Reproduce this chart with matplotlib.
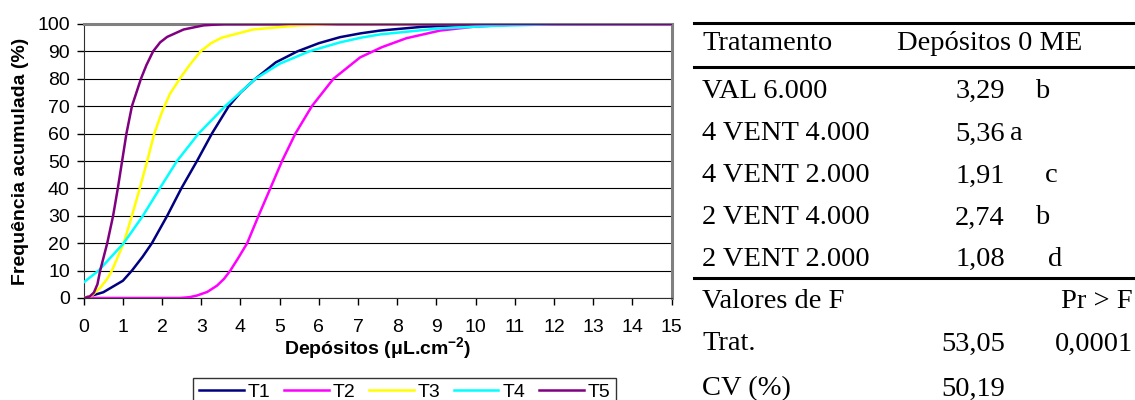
import matplotlib.pyplot as plt

plt.rcParams['font.family'] = ['Liberation Sans', 'DejaVu Sans']
plt.rcParams['mathtext.fontset'] = 'custom'
plt.rcParams['mathtext.rm'] = 'Liberation Sans:bold'
plt.rcParams['mathtext.bf'] = 'Liberation Sans:bold'

# curvas de frequencia acumulada
x_t1 = [0, 0.5, 1.0, 1.23, 1.5, 1.74, 2.13, 2.49, 2.89, 3.27, 3.70, 4.0, 4.38, 4.9, 5.45,
        6.0, 6.54, 7.07, 7.56, 8.66, 10, 11, 15]
y_t1 = [0, 2.1, 6.3, 10, 15, 20, 30, 40, 50, 60, 70, 75, 80, 86, 90,
        93, 95.2, 96.6, 97.6, 99, 99.8, 100, 100]

x_t2 = [0, 2.45, 2.7, 2.89, 3.15, 3.4, 3.58, 3.74, 3.96, 4.17, 4.46, 4.76, 5.06, 5.40, 5.82, 6.37,
        7.05, 7.6, 8.23, 9.09, 9.94, 11, 12, 15]
y_t2 = [0, 0, 0.3, 0.9, 2.2, 4.5, 7, 10, 15, 20, 30, 40, 50, 60, 70, 80,
        87.8, 91.5, 94.8, 97.6, 99, 99.8, 100, 100]

x_t3 = [0, 0.2, 0.43, 0.6, 0.72, 1.02, 1.23, 1.43, 1.62, 1.80, 2.0, 2.2, 2.45, 2.7, 2.98, 3.25,
        3.52, 4.32, 5.5, 6.5, 15]
y_t3 = [0, 0.8, 3.9, 7, 10, 20, 30, 40, 50, 60, 68, 74.5, 80, 85, 90, 93,
        95, 98, 99.5, 100, 100]

x_t4 = [0, 0.38, 0.7, 1.02, 1.51, 1.94, 2.38, 2.93, 3.61, 4.38, 5.0, 5.75, 6.54, 7.07, 7.56,
        9.09, 10.4, 12, 15]
y_t4 = [5.7, 10, 15, 20, 30, 40, 50, 60, 70, 80, 85.5, 90, 93.3, 95, 96.2,
        98.4, 99.3, 99.9, 100]

x_t5 = [0, 0.15, 0.26, 0.35, 0.42, 0.6, 0.75, 0.87, 0.98, 1.09, 1.23, 1.46, 1.6, 1.77, 1.95,
        2.13, 2.55, 3.06, 3.6, 15]
y_t5 = [0, 0.5, 2, 5, 10, 20, 30, 40, 50, 60, 70, 80, 85, 90, 93.3,
        95.3, 98, 99.5, 100, 100]

series = [("T1", x_t1, y_t1, "#000080"),
          ("T2", x_t2, y_t2, "#FF00FF"),
          ("T3", x_t3, y_t3, "#FFFF00"),
          ("T4", x_t4, y_t4, "#00FFFF"),
          ("T5", x_t5, y_t5, "#800080")]

# tabela
tratamentos = ["VAL 6.000", "4 VENT 4.000", "4 VENT 2.000", "2 VENT 4.000", "2 VENT 2.000"]
medias = ["3,29", "5,36", "1,91", "2,74", "1,08"]
letras = ["b", "a", "c", "b", "d"]
f_trat = "53,05"
pr_trat = "0,0001"
cv = "50,19"

W, H = 1135, 400
fig = plt.figure(figsize=(W / 100, H / 100), dpi=100)

ax = fig.add_axes([83.7 / W, 1 - 298 / H, 588 / W, 274 / H])
for nome, xs, ys, cor in series:
    ax.plot(xs, ys, color=cor, lw=1.8, label=nome, zorder=3, solid_joinstyle="round")

ax.set_xlim(0, 15)
ax.set_ylim(0, 100)
ax.set_xticks(range(0, 16))
ax.set_yticks(range(0, 101, 10))
ax.yaxis.grid(True, color="black", lw=0.8)
ax.tick_params(labelsize=14, length=5, width=1, direction="out")
ax.tick_params(axis="x", pad=10)
ax.tick_params(axis="y", pad=5)
ax.spines["left"].set_color("#303030")
ax.spines["bottom"].set_color("#303030")
ax.spines["right"].set_color("#808080")
ax.spines["top"].set_color("#808080")
ax.spines["right"].set_linewidth(2.2)
ax.spines["top"].set_linewidth(2.2)

ax.set_xlabel("Depósitos (μL.cm$^{-2}$)", fontsize=14, fontweight="bold", labelpad=0)
ax.set_ylabel("Frequência acumulada (%)", fontsize=14, fontweight="bold", labelpad=6)

leg = fig.legend(loc="upper left", bbox_to_anchor=(193 / W, 1 - 377.5 / H), ncol=5,
                 fontsize=14, frameon=True, fancybox=False, handlelength=2.3,
                 handletextpad=0.2, columnspacing=0.7, borderpad=0.3, borderaxespad=0)
leg.get_frame().set_edgecolor("black")
leg.get_frame().set_linewidth(1)

# tabela a direita, em coordenadas de pixel
tb = fig.add_axes([0, 0, 1, 1])
tb.set_xlim(0, W)
tb.set_ylim(H, 0)
tb.axis("off")

fs = 20.5
serif = ["Liberation Serif", "DejaVu Serif"]
tb.plot([694, W], [23, 23], color="black", lw=2.2)
tb.plot([694, W], [66.5, 66.5], color="black", lw=2.2)
tb.plot([694, W], [278, 278], color="black", lw=2.2)

tb.text(702, 44, "Tratamento", fontsize=fs, family=serif, va="center")
tb.text(897, 44, "Depósitos 0 ME", fontsize=fs, family=serif, va="center")

linhas_y = [91, 134, 176, 218, 259]
letras_x = {"a": 1010, "b": 1035, "c": 1045, "d": 1048}
for ty, nome, m, l in zip(linhas_y, tratamentos, medias, letras):
    tb.text(702, ty, nome, fontsize=fs, family=serif, va="center")
    tb.text(1005, ty, m, fontsize=fs, family=serif, va="center", ha="right")
    tb.text(letras_x[l], ty, l, fontsize=fs, family=serif, va="center")

tb.text(702, 301, "Valores de F", fontsize=fs, family=serif, va="center")
tb.text(1133, 301, "Pr > F", fontsize=fs, family=serif, va="center", ha="right")
tb.text(702, 344, "Trat.", fontsize=fs, family=serif, va="center")
tb.text(1005, 344, f_trat, fontsize=fs, family=serif, va="center", ha="right")
tb.text(1133, 344, pr_trat, fontsize=fs, family=serif, va="center", ha="right")
tb.text(702, 389, "CV (%)", fontsize=fs, family=serif, va="center")
tb.text(1005, 389, cv, fontsize=fs, family=serif, va="center", ha="right")

fig.savefig("out.png", dpi=100)
